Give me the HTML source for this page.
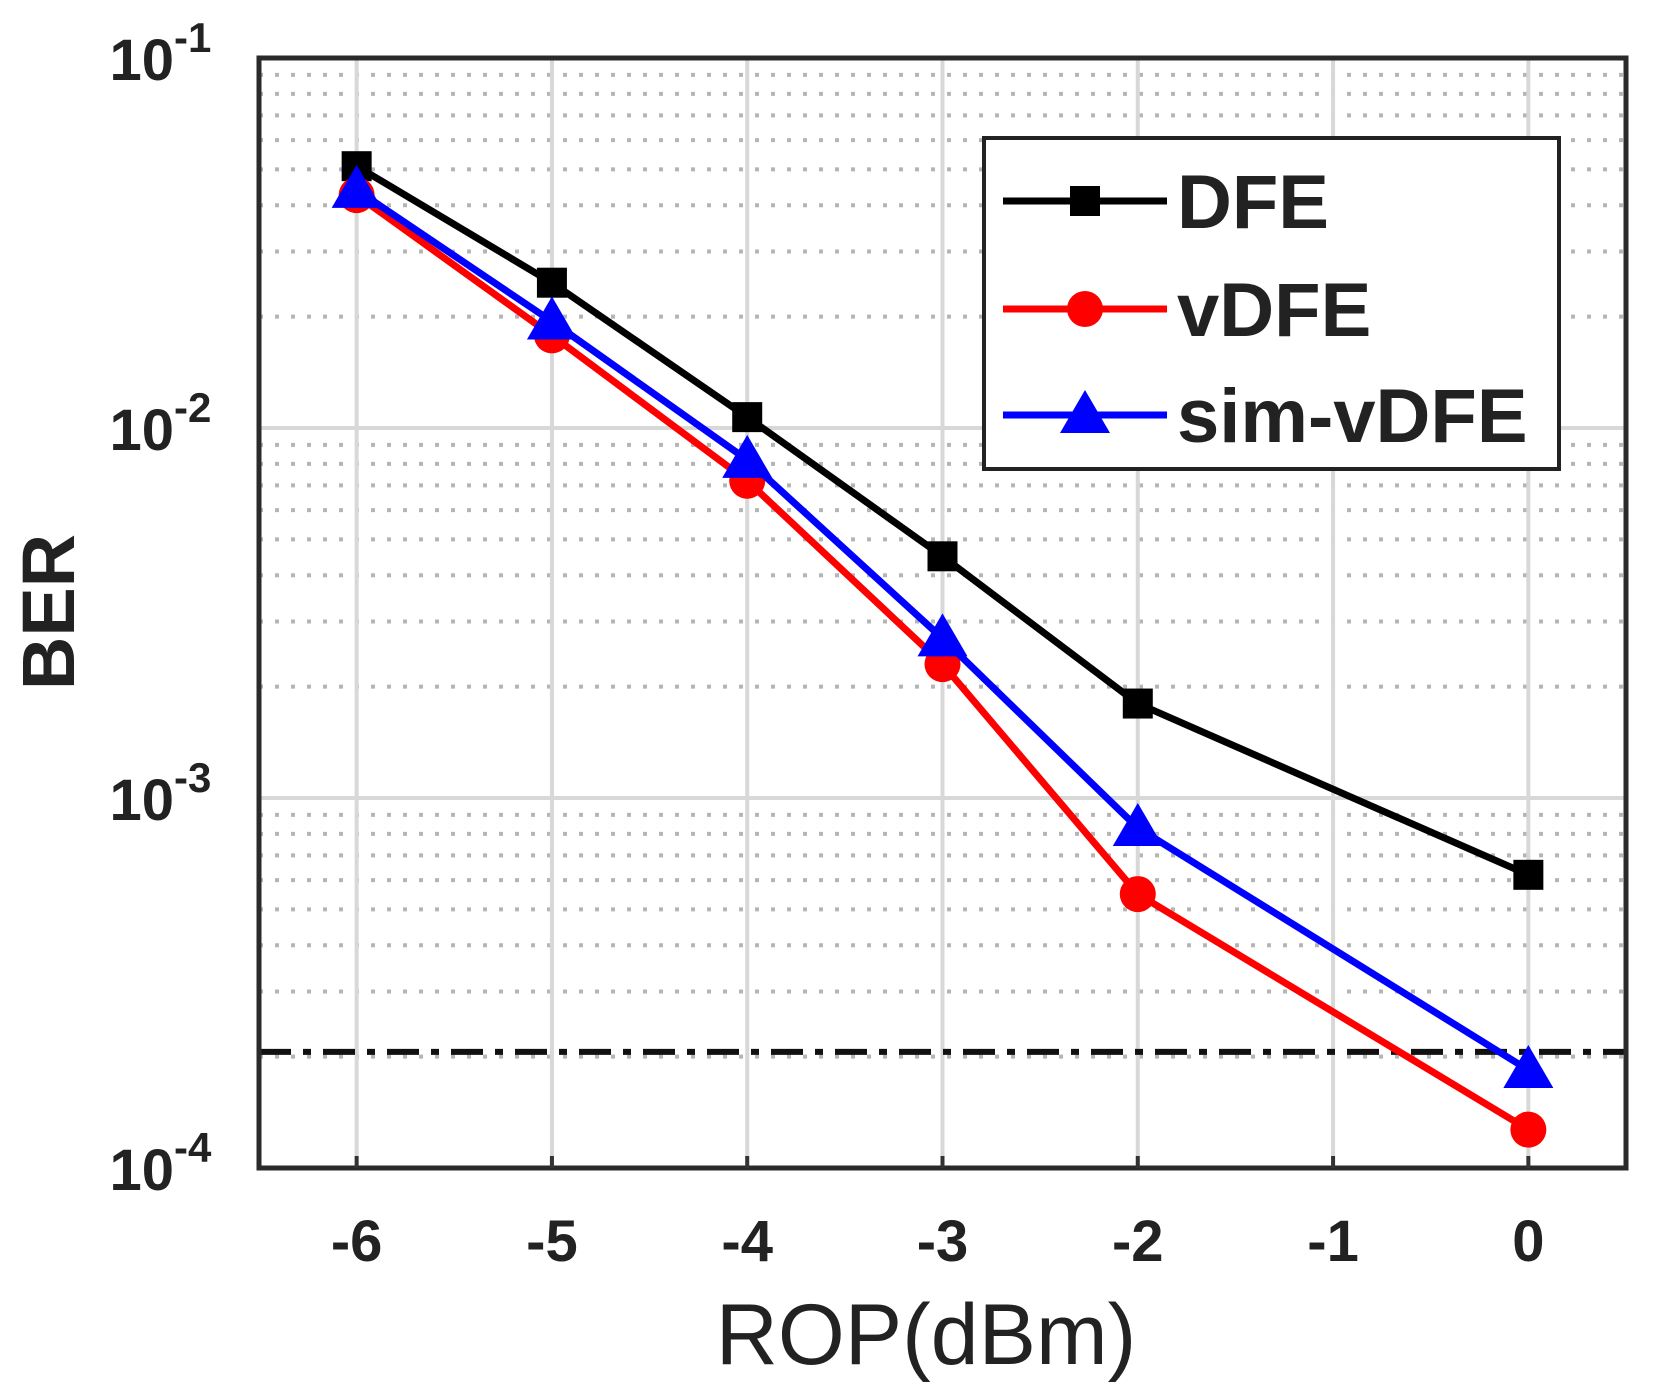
<!DOCTYPE html>
<html><head><meta charset="utf-8"><style>
html,body{margin:0;padding:0;background:#fff;}
svg{display:block;}
text{font-family:"Liberation Sans",sans-serif;fill:#222;}
</style></head><body>
<svg id="chart" width="1655" height="1398" viewBox="0 0 1655 1398" xmlns="http://www.w3.org/2000/svg">
<rect x="0" y="0" width="1655" height="1398" fill="#fff"/>
<g id="grid"></g>
<g id="series"></g>
<rect x="259" y="58" width="1367" height="1110" fill="none" stroke="#2a2a2a" stroke-width="5"/>
<g id="ticks"></g>
<text x="0" y="0" transform="translate(74,612) rotate(-90)" text-anchor="middle" font-size="74" font-weight="bold">BER</text>
<text x="926" y="1364" text-anchor="middle" font-size="86">ROP(dBm)</text>
<g id="legend">
<rect x="984" y="138" width="575" height="331" fill="#fff" stroke="#222" stroke-width="4"/>
</g>
</svg>
<script>
const xTicks = [-6, -5, -4, -3, -2, -1, 0];
const yDecades = [-1, -2, -3, -4];
const rop = [-6, -5, -4, -3, -2, 0];
const berDFE = [0.051, 0.0247, 0.0107, 0.0045, 0.0018, 0.00062];
const berVDFE = [0.0426, 0.0178, 0.0072, 0.0023, 0.00055, 0.000127];
const berSimVDFE = [0.044, 0.0194, 0.0082, 0.0027, 0.00083, 0.000184];
const threshold = [0.000206];

const NS = "http://www.w3.org/2000/svg";
const L = 259, R = 1626, T = 58, B = 1168;
const xMin = -6.5, xMax = 0.5, lMax = -1, lMin = -4;
const xs = v => L + (v - xMin) / (xMax - xMin) * (R - L);
const ys = v => T + (lMax - Math.log10(v)) / (lMax - lMin) * (B - T);
function mk(tag, attrs, parent) {
  const e = document.createElementNS(NS, tag);
  for (const k in attrs) e.setAttribute(k, attrs[k]);
  parent.appendChild(e);
  return e;
}
const grid = document.getElementById('grid');
const ser = document.getElementById('series');
const ticks = document.getElementById('ticks');
const legend = document.getElementById('legend');

for (let d = -4; d < -1; d++) {
  for (let m = 2; m <= 9; m++) {
    const y = ys(m * Math.pow(10, d));
    const ln = mk('line', {x1: L, x2: R, y1: y, y2: y, stroke: '#b5b5b5', 'stroke-width': 4, 'stroke-dasharray': '4 12'}, grid);
    
    
  }
}
yDecades.forEach(d => {
  const y = ys(Math.pow(10, d));
  const ln = mk('line', {x1: L, x2: R, y1: y, y2: y, stroke: '#d8d8d8', 'stroke-width': 4}, grid);
  
  
  const t = mk('text', {x: 174, y: y + 22, 'text-anchor': 'end', 'font-size': 58, 'font-weight': 'bold'}, ticks);
  
  
  t.textContent = '10';
  const sp = mk('text', {x: 174, y: y - 6, 'text-anchor': 'start', 'font-size': 42, 'font-weight': 'bold'}, ticks);
  
  
  sp.textContent = String(d);
});
xTicks.forEach(v => {
  const x = xs(v);
  const ln = mk('line', {x1: x, x2: x, y1: T, y2: B, stroke: '#d8d8d8', 'stroke-width': 4}, grid);
  
  
  const tk = mk('line', {x1: x, x2: x, y1: B, y2: B - 12, stroke: '#333', 'stroke-width': 4}, ticks);
  
  
  const t = mk('text', {x: x, y: 1261, 'text-anchor': 'middle', 'font-size': 58, 'font-weight': 'bold'}, ticks);
  
  
  t.textContent = String(v);
});

const ty = ys(threshold[0]);
const th = mk('line', {x1: L, x2: R, y1: ty, y2: ty, stroke: '#111', 'stroke-width': 6, 'stroke-dasharray': '32 12 8 12'}, ser);



function marker(type, x, y, color, parent) {
  let m;
  if (type === 'square') m = mk('rect', {x: x - 15, y: y - 15, width: 30, height: 30, fill: color}, parent);
  else if (type === 'circle') m = mk('circle', {cx: x, cy: y, r: 18, fill: color}, parent);
  else m = mk('polygon', {points: `${x},${y - 25} ${x - 25},${y + 18} ${x + 25},${y + 18}`, fill: color}, parent);
  return m;
}
function drawSeries(vals, color, type, name) {
  const pts = rop.map((r, i) => xs(r) + ',' + ys(vals[i])).join(' ');
  const pl = mk('polyline', {points: pts, fill: 'none', stroke: color, 'stroke-width': 7, 'stroke-linejoin': 'round'}, ser);
  
  
  rop.forEach((r, i) => {
    const m = marker(type, xs(r), ys(vals[i]), color, ser);
    
    
  });
}
drawSeries(berDFE, '#000', 'square', 'dfe');
drawSeries(berVDFE, '#f00', 'circle', 'vdfe');
drawSeries(berSimVDFE, '#00f', 'triangle', 'sim-vdfe');

const legItems = [['DFE', '#000', 'square'], ['vDFE', '#f00', 'circle'], ['sim-vDFE', '#00f', 'triangle']];
const legY = [201, 309, 415];
legItems.forEach((it, i) => {
  const y = legY[i];
  const ln = mk('line', {x1: 1003, x2: 1167, y1: y, y2: y, stroke: it[1], 'stroke-width': 7}, legend);
  
  
  const m = marker(it[2], 1085, y, it[1], legend);
  
  
  const t = mk('text', {x: 1177, y: y + 27, 'font-size': 76, 'font-weight': 'bold'}, legend);
  
  
  t.textContent = it[0];
});
</script>
</body></html>
